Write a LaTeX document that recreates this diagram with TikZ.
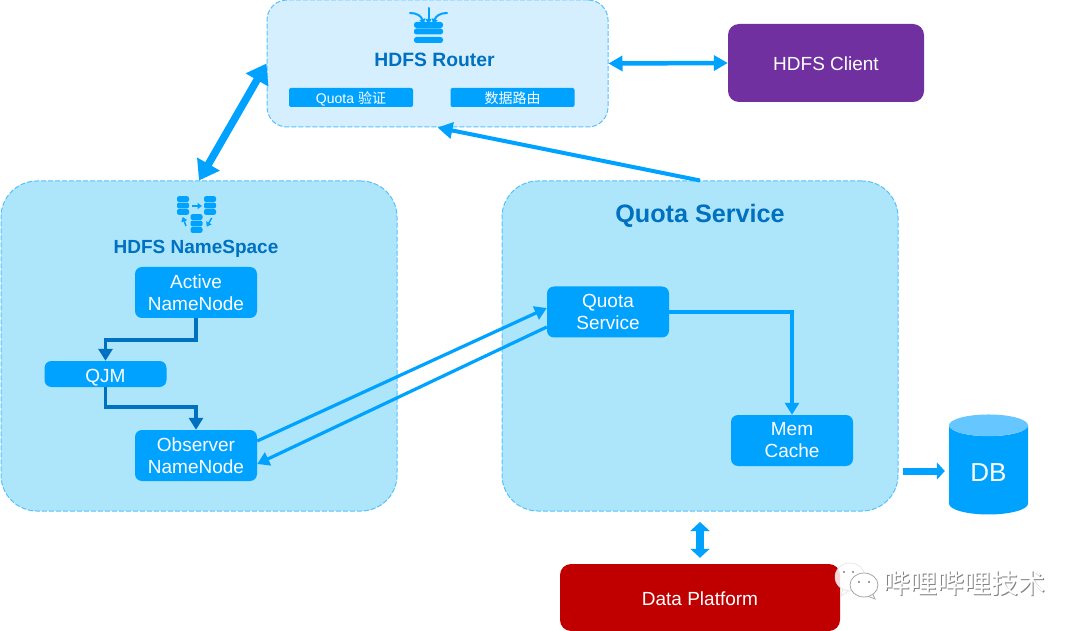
\documentclass[tikz,border=0pt]{standalone}
\usepackage{fontspec}
\setmainfont{Liberation Sans}
\newfontfamily\cjk{Noto Sans CJK SC}
\usetikzlibrary{arrows.meta,shapes.geometric}

\definecolor{nodeblue}{HTML}{00A2FF}
\definecolor{darkblue}{HTML}{0070C0}
\definecolor{edgeblue}{HTML}{56C1FF}
\definecolor{routerbg}{HTML}{D6EFFF}
\definecolor{groupbg}{HTML}{ADE5FB}
\definecolor{dbtop}{HTML}{66C6FF}
\definecolor{clientbg}{HTML}{7030A0}
\definecolor{platformbg}{HTML}{C00000}

\tikzset{
  group/.style={draw=edgeblue, dash pattern=on 5pt off 2pt, line width=1pt, rounded corners=36pt},
  svc/.style={fill=nodeblue, text=white, rounded corners=7pt, align=center,
    minimum width=122pt, minimum height=51pt, inner sep=0pt,
    font=\fontsize{19}{22}\selectfont, execute at begin node={\rule{0pt}{20pt}}},
  tag/.style={fill=nodeblue, text=white, rounded corners=2pt, inner sep=0pt,
    text height=13pt, text depth=1pt,
    minimum width=124pt, minimum height=19pt, font=\fontsize{14}{16}\selectfont},
  title/.style={text=darkblue, inner sep=0pt, font=\bfseries\fontsize{19.3}{22}\selectfont},
  solid box/.style={text=white, rounded corners=11pt, inner sep=0pt, text height=16pt,
    font=\fontsize{19}{22}\selectfont},
  link/.style={draw=nodeblue, line width=3.2pt, -{Triangle[length=12pt,width=14pt]}},
  flow/.style={draw=darkblue, line width=3.6pt, -{Triangle[length=12pt,width=14pt]}},
  small tip/.style={draw=nodeblue, line width=1.5pt, -{Triangle[length=4.5pt,width=6pt]}},
  crown tip/.style={draw=nodeblue, line width=2pt, line cap=round, -{Triangle[length=5pt,width=6pt]}},
  pics/minidb/.style={code={
    \foreach \y in {-6.4,0,6.4}
      \fill[nodeblue, rounded corners=2pt] (-6,\y-2.9) rectangle (6,\y+2.9);
  }},
}

\begin{document}
\begin{tikzpicture}[x=1pt,y=-1pt]
  \useasboundingbox[fill=white] (0,0) rectangle (1080,631);

  % groups
  \node[group, rounded corners=20pt, fill=routerbg, minimum width=341pt, minimum height=127pt] (router) at (437.5,63.5) {};
  \node[group, fill=groupbg, minimum width=396pt, minimum height=330pt] (namespace) at (199,346) {};
  \node[group, fill=groupbg, minimum width=396pt, minimum height=330pt] (quotabox) at (700,346) {};

  % router content
  \foreach \y in {25,31.5,40}
    \fill[nodeblue, rounded corners=2.5pt] (414,\y-3) rectangle (443,\y+3);
  \draw[crown tip] (428.5,8) -- (428.5,24);
  \draw[crown tip] (410,13) .. controls (417,13) and (421,16) .. (424,24);
  \draw[crown tip] (447,13) .. controls (440,13) and (436,16) .. (433,24);
  \node[title] (routertitle) at (434.5,60) {HDFS Router};
  \node[tag] (quotacheck) at (351,97.5) {Quota {\cjk 验证}};
  \node[tag] (dataroute) at (512.5,97.5) {\cjk 数据路由};

  % namespace content
  \pic at (183,205.5) {minidb};
  \pic at (210,205.5) {minidb};
  \pic at (196.5,223.5) {minidb};
  \draw[small tip] (192,206) -- (202,206);
  \draw[small tip] (186,226) -- (182.7,217);
  \draw[small tip] (211.7,218) -- (206.7,226.7);
  \node[title, font=\bfseries\fontsize{19}{22}\selectfont] (nstitle) at (196,249) {HDFS NameSpace};
  \node[svc] (active) at (196,292.5) {Active\\NameNode};
  \node[svc, minimum height=26pt, execute at begin node={\rule{0pt}{16pt}}] (qjm) at (105.5,374) {QJM};
  \node[svc] (observer) at (196,455.5) {Observer\\NameNode};

  % quota service content
  \node[title, font=\bfseries\fontsize{25.2}{28}\selectfont] (quotatitle) at (700,216) {Quota Service};
  \node[svc, execute at begin node={}] (qservice) at (608,312) {Quota\\Service};
  \node[svc] (memcache) at (792,440.5) {Mem\\Cache};

  % outer boxes
  \node[solid box, fill=clientbg, minimum width=196pt, minimum height=78pt] (client) at (826,63) {HDFS Client};
  \node[solid box, fill=platformbg, minimum width=280pt, minimum height=67pt, text height=17pt] (platform) at (700,597.5) {Data Platform};
  \node[shape=cylinder, shape border rotate=90, aspect=0.6, cylinder uses custom fill,
    cylinder body fill=nodeblue, cylinder end fill=dbtop, text=white, inner sep=0pt, text height=22pt,
    minimum width=79pt, minimum height=100pt, font=\fontsize{26}{30}\selectfont] (db) at (988.5,470) {DB};

  % connectors
  \draw[link, line width=4.5pt, {Triangle[length=14pt,width=15pt]}-{Triangle[length=14pt,width=15pt]}] (router.east) -- (client.west);
  \draw[link, line width=7.5pt, {Triangle[length=19pt,width=25pt]}-{Triangle[length=19pt,width=25pt]}] (router.west) -- (namespace.north);
  \draw[link, line width=4pt, -{Triangle[length=15pt,width=16pt]}] (quotabox.north) -- (router.south);
  \draw[flow] (active.south) -- ++(0,22) -| (qjm.north);
  \draw[flow] (qjm.south) -- ++(0,20) -| (observer.north);
  \draw[link] ([yshift=14.5pt]observer.east) -- ([yshift=4pt]qservice.west);
  \draw[link] ([yshift=-15pt]qservice.west) -- ([yshift=-8.5pt]observer.east);
  \draw[link] (qservice.east) -| (memcache.north);
  \coordinate (dbfrom) at (903,471);
  \draw[link, line width=7pt, shorten >=4pt, -{Triangle[length=8pt,width=17pt]}] (dbfrom) -- (dbfrom -| db.west);
  \coordinate (pfrom) at (700,522);
  \draw[link, line width=8.5pt, shorten >=6pt, {Triangle[length=9pt,width=19pt]}-{Triangle[length=9pt,width=19pt]}] (pfrom) -- (platform.north);

  % watermark
  \fill[white, fill opacity=0.85, draw=gray!25, line width=0.5pt] (843,589) -- (841,596) -- (850,590) -- cycle;
  \fill[white, fill opacity=0.85, draw=gray!25, line width=0.5pt] (850,577) ellipse (15 and 14);
  \fill[white, draw=gray!70, line width=0.8pt] (872,592) -- (875,599) -- (865,595) -- cycle;
  \fill[white, draw=gray!70, line width=0.8pt] (864,585) ellipse (14 and 12);
  \fill[white] (868,592) circle (3);
  \foreach \x in {859,869} \fill[gray] (\x,582) circle (1.1);
  \foreach \x in {844,853} \fill[gray] (\x,572) circle (1.1);
  \node[text=gray, inner sep=0pt, font=\fontsize{27}{30}\selectfont\cjk] (markshade) at (965.5,584) {哔哩哔哩技术};
  \node[text=white, inner sep=0pt, font=\fontsize{27}{30}\selectfont\cjk] (mark) at (964.5,583) {哔哩哔哩技术};
\end{tikzpicture}
\end{document}
